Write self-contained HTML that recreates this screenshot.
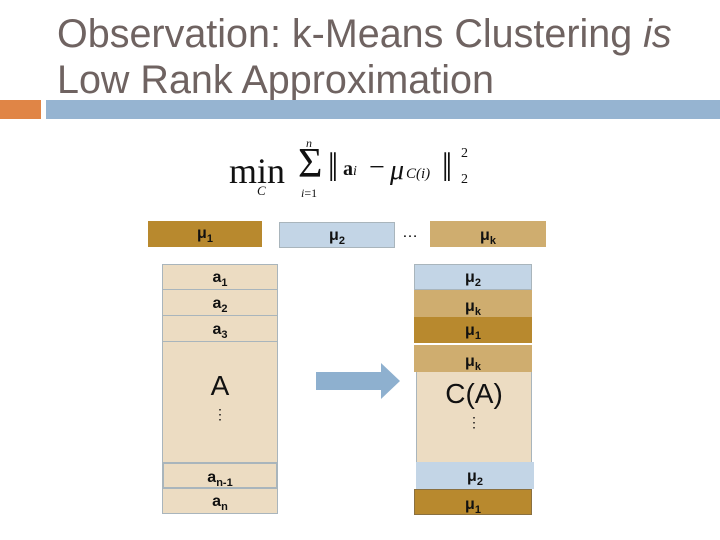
<!DOCTYPE html>
<html><head><meta charset="utf-8"><style>
body{margin:0;width:720px;height:540px;background:#fff;position:relative;overflow:hidden;font-family:"Liberation Sans",sans-serif}
.t{position:absolute;left:57px;font-size:39.5px;color:#6f6361;line-height:46px;white-space:nowrap}
.b{position:absolute;box-sizing:border-box;text-align:center;font-weight:bold;font-size:16px;color:#111}
.lt{background:#ecdcc2;border:1.5px solid #a9b5bc}
.d{background:#b8892e}.bl{background:#c3d5e6}.m{background:#cfad6f}
sub{font-size:11px}
.f{position:absolute;font-family:'Liberation Serif',serif;color:#111;white-space:nowrap}
</style></head><body>
<div class="t" style="top:11px">Observation: k-Means Clustering <i>is</i></div>
<div class="t" style="top:57px">Low Rank Approximation</div>
<div style="position:absolute;left:0;top:100px;width:41px;height:19px;background:#e08546"></div>
<div style="position:absolute;left:46px;top:100px;width:674px;height:19px;background:#96b4d1"></div>

<span class="f" style="left:229px;top:150px;font-size:36px">min</span>
<span class="f" style="left:257px;top:183px;font-size:13px;font-style:italic">C</span>
<span class="f" style="left:298px;top:140px;font-size:42px">Σ</span>
<span class="f" style="left:306px;top:136px;font-size:12px;font-style:italic">n</span>
<span class="f" style="left:301px;top:186px;font-size:12px"><i>i</i>=1</span>
<span class="f" style="left:328px;top:146px;font-size:36px;transform:scaleY(1.15)">‖</span>
<span class="f" style="left:343px;top:158px;font-size:20px"><b>a</b><i style="font-size:14px">i</i></span>
<span class="f" style="left:369px;top:152px;font-size:28px">−</span>
<span class="f" style="left:390px;top:155px;font-size:28px;font-style:italic">μ</span>
<span class="f" style="left:406px;top:166px;font-size:15px;font-style:italic">C(i)</span>
<span class="f" style="left:442px;top:146px;font-size:36px;transform:scaleY(1.15)">‖</span>
<span class="f" style="left:461px;top:146px;font-size:14px">2</span>
<span class="f" style="left:461px;top:172px;font-size:14px">2</span>

<div class="b d" style="left:148px;top:221px;width:114px;height:26px;line-height:26px">μ<sub>1</sub></div>
<div class="b bl" style="left:279px;top:222px;width:116px;height:26px;line-height:26px;border:1px solid #a9b5bc">μ<sub>2</sub></div>
<div style="position:absolute;left:402px;top:224px;font-size:16px">…</div>
<div class="b m" style="left:430px;top:221px;width:116px;height:26px;line-height:30px">μ<sub>k</sub></div>

<div class="b lt" style="left:162px;top:264px;width:116px;height:26px;line-height:26px">a<sub>1</sub></div>
<div class="b lt" style="left:162px;top:289px;width:116px;height:27px;line-height:27px">a<sub>2</sub></div>
<div class="b lt" style="left:162px;top:315px;width:116px;height:27px;line-height:27px">a<sub>3</sub></div>
<div class="b lt" style="left:162px;top:341px;width:116px;height:122px;font-weight:normal;font-size:28px;padding-top:28px">A<div style="font-size:14px;line-height:8px;margin-top:8px">⋮</div></div>
<div class="b lt" style="left:162px;top:462px;width:116px;height:27px;line-height:27px;border-width:2px">a<sub>n-1</sub></div>
<div class="b lt" style="left:162px;top:488px;width:116px;height:26px;line-height:26px">a<sub>n</sub></div>

<svg style="position:absolute;left:0;top:0" width="720" height="540"><polygon points="316,372 381,372 381,363 400,381 381,399 381,390 316,390" fill="#8eb0cf"/></svg>

<div class="b lt" style="left:416px;top:345px;width:116px;height:118px;font-weight:normal;font-size:28px;padding-top:32px">C(A)<div style="font-size:14px;line-height:8px;margin-top:8px">⋮</div></div>
<div class="b bl" style="left:414px;top:264px;width:118px;height:26px;line-height:26px;border:1px solid #a9b5bc">μ<sub>2</sub></div>
<div class="b m" style="left:414px;top:290px;width:118px;height:27px;line-height:34px">μ<sub>k</sub></div>
<div class="b d" style="left:414px;top:317px;width:118px;height:26px;line-height:28px">μ<sub>1</sub></div>
<div class="b m" style="left:414px;top:345px;width:118px;height:27px;line-height:34px">μ<sub>k</sub></div>
<div class="b bl" style="left:416px;top:462px;width:118px;height:27px;line-height:30px">μ<sub>2</sub></div>
<div class="b d" style="left:414px;top:489px;width:118px;height:26px;line-height:30px;border:1px solid #8a7040">μ<sub>1</sub></div>
</body></html>
